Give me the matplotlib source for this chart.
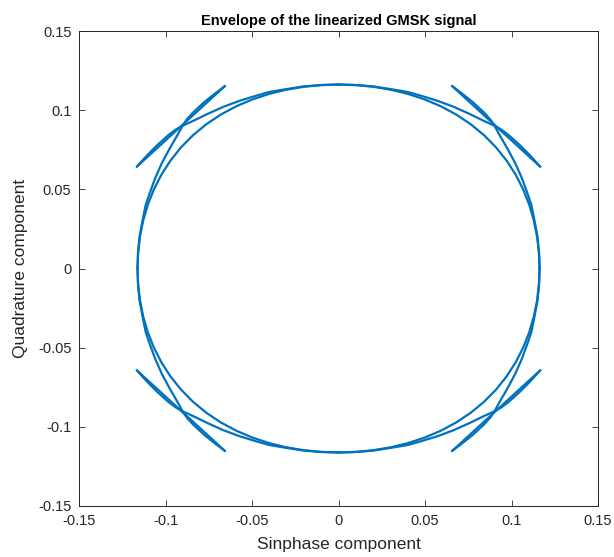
import matplotlib
matplotlib.use("Agg")
import matplotlib.pyplot as plt
import numpy as np

plt.rcParams['font.family'] = ['Liberation Sans', 'DejaVu Sans']

# ---- data (top-right quadrant; the chart is mirror-symmetric) ----
# main ring, from the positive x axis up to the positive y axis
circle_x = [0.1162, 0.11584, 0.11476, 0.11292, 0.11028, 0.1068, 0.10245, 0.09721, 0.0911, 0.08415,
            0.07644, 0.06807, 0.05915, 0.0498, 0.04014, 0.03026, 0.02024, 0.01013, 0.0]
circle_y = [0.0, 0.01013, 0.02024, 0.03026, 0.04014, 0.0498, 0.05915, 0.06807, 0.07644, 0.08415,
            0.0911, 0.09721, 0.10245, 0.1068, 0.11028, 0.11292, 0.11476, 0.11584, 0.1162]

# branch leaving the ring near the top, running out to the corner point near the x axis
branch_top_x = [0.0, 0.0101, 0.0202, 0.0302, 0.0400, 0.0471, 0.0570, 0.0664, 0.0760, 0.0835,
                0.0905, 0.0940, 0.0984, 0.1049, 0.1109, 0.1166]
branch_top_y = [0.1162, 0.1159, 0.1150, 0.1133, 0.1115, 0.1093, 0.1060, 0.1022, 0.0975, 0.0935,
                0.0900, 0.0878, 0.0842, 0.0778, 0.0712, 0.0643]

# branch leaving the ring near the x axis, running out to the corner point near the top
branch_side_x = [0.1162, 0.1159, 0.1150, 0.1133, 0.1115, 0.1093, 0.1060, 0.1022, 0.0975, 0.0935,
                 0.0900, 0.0878, 0.0842, 0.0778, 0.0714, 0.0656]
branch_side_y = [0.0, 0.0101, 0.0202, 0.0302, 0.0400, 0.0471, 0.0570, 0.0664, 0.0760, 0.0835,
                 0.0905, 0.0940, 0.0984, 0.1049, 0.1105, 0.1153]

# direct stroke between the two corner points
lens_x = [0.0656, 0.0908, 0.1166]
lens_y = [0.1153, 0.0901, 0.0643]

quadrant_signs = [(1, 1), (-1, 1), (-1, -1), (1, -1)]

tick_values = [-0.15, -0.1, -0.05, 0, 0.05, 0.1, 0.15]
tick_labels = ['-0.15', '-0.1', '-0.05', '0', '0.05', '0.1', '0.15']

color = '#0072BD'

fig = plt.figure(figsize=(6.14, 5.57), dpi=100)
ax = fig.add_axes([0.1287, 0.0916, 0.8453, 0.8527])

paths = [(circle_x, circle_y), (branch_top_x, branch_top_y), (branch_side_x, branch_side_y),
         (lens_x, lens_y)]
for sx, sy in quadrant_signs:
    for px, py in paths:
        ax.plot(sx * np.array(px), sy * np.array(py), color=color, lw=1.6,
                solid_capstyle='round', solid_joinstyle='round')

ax.set_xlim(-0.15, 0.15)
ax.set_ylim(-0.15, 0.15)
ax.set_xticks(tick_values)
ax.set_xticklabels(tick_labels)
ax.set_yticks(tick_values)
ax.set_yticklabels(tick_labels)
ax.tick_params(direction='in', top=True, right=True, length=4, width=0.6, pad=5.5,
               colors='#262626', labelsize=10.5, labelcolor='#262626')
for s in ax.spines.values():
    s.set_color('#262626')
    s.set_linewidth(0.7)

ax.set_title('Envelope of the linearized GMSK signal', fontsize=10.5, fontweight='bold',
             color='black', pad=4)
ax.set_xlabel('Sinphase component', fontsize=12.5, color='#262626', labelpad=7)
ax.set_ylabel('Quadrature component', fontsize=12.5, color='#262626', labelpad=7)

fig.savefig('out.png', dpi=100)
